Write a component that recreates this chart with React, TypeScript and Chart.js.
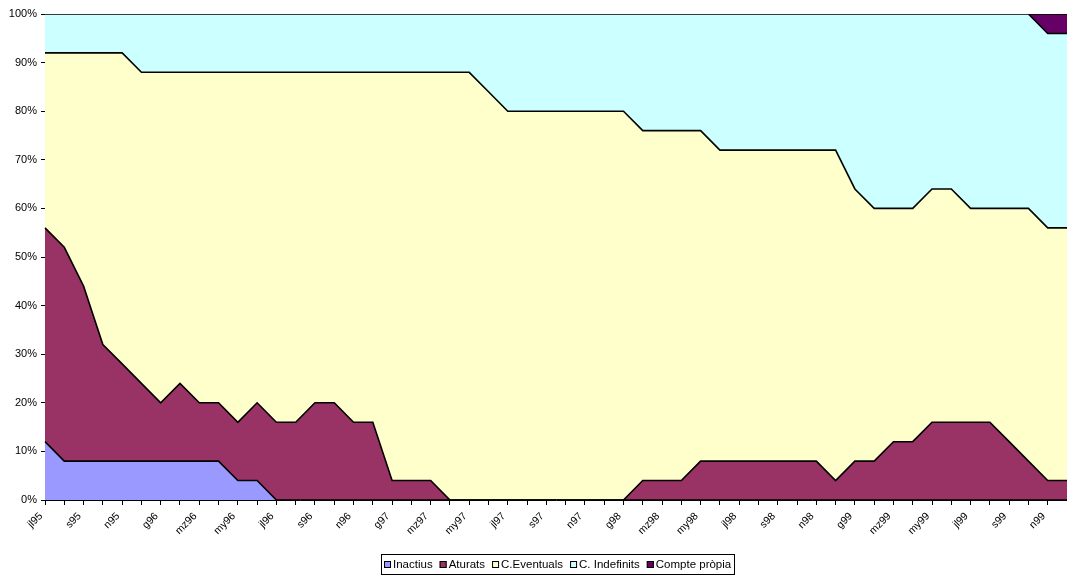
import React, { useEffect, useRef } from 'react';
import { Chart, registerables } from 'chart.js';

Chart.register(...registerables);

const months = [
  'jl95', 'ag95', 's95', 'o95', 'n95', 'd95',
  'g96', 'f96', 'mz96', 'ab96', 'my96', 'jn96', 'jl96', 'ag96', 's96', 'o96', 'n96', 'd96',
  'g97', 'f97', 'mz97', 'ab97', 'my97', 'jn97', 'jl97', 'ag97', 's97', 'o97', 'n97', 'd97',
  'g98', 'f98', 'mz98', 'ab98', 'my98', 'jn98', 'jl98', 'ag98', 's98', 'o98', 'n98', 'd98',
  'g99', 'f99', 'mz99', 'ab99', 'my99', 'jn99', 'jl99', 'ag99', 's99', 'o99', 'n99', 'd99',
];

const seriesNames = ['Inactius', 'Aturats', 'C.Eventuals', 'C. Indefinits', 'Compte pròpia'];

const inactius = [
  12, 8, 8, 8, 8, 8, 8, 8, 8, 8, 4, 4,
  0, 0, 0, 0, 0, 0, 0, 0, 0, 0, 0, 0, 0, 0, 0, 0, 0, 0, 0, 0, 0, 0, 0, 0, 0, 0, 0, 0, 0, 0,
  0, 0, 0, 0, 0, 0, 0, 0, 0, 0, 0, 0,
];

const aturats = [
  44, 44, 36, 24, 20, 16, 12, 16, 12, 12, 12, 16, 16, 16, 20, 20, 16, 16, 4, 4, 4,
  0, 0, 0, 0, 0, 0, 0, 0, 0, 0,
  4, 4, 4, 8, 8, 8, 8, 8, 8, 8, 4, 8, 8, 12, 12, 16, 16, 16, 16, 12, 8, 4, 4,
];

const eventuals = [
  36, 40, 48, 60, 64, 64, 68, 64, 68, 68, 72, 68, 72, 72, 68, 68, 72, 72, 84, 84, 84, 88, 88, 84,
  80, 80, 80, 80, 80, 80, 80,
  72, 72, 72, 68, 64, 64, 64, 64, 64, 64, 68,
  56, 52, 48, 48, 48, 48, 44, 44, 48, 52, 52, 52,
];

const indefinits = [
  8, 8, 8, 8, 8,
  12, 12, 12, 12, 12, 12, 12, 12, 12, 12, 12, 12, 12, 12, 12, 12, 12, 12,
  16, 20, 20, 20, 20, 20, 20, 20,
  24, 24, 24, 24, 28, 28, 28, 28, 28, 28, 28,
  36, 40, 40, 40, 36, 36, 40, 40, 40, 40, 40, 40,
];

const comptePropia = [
  0, 0, 0, 0, 0, 0, 0, 0, 0, 0, 0, 0, 0, 0, 0, 0, 0, 0, 0, 0, 0, 0, 0, 0, 0, 0,
  0, 0, 0, 0, 0, 0, 0, 0, 0, 0, 0, 0, 0, 0, 0, 0, 0, 0, 0, 0, 0, 0, 0, 0, 0, 0,
  4, 4,
];

const yTicks = [0, 10, 20, 30, 40, 50, 60, 70, 80, 90, 100];

const seriesData = [inactius, aturats, eventuals, indefinits, comptePropia];
const seriesColors = ['#9999FF', '#993366', '#FFFFCC', '#CCFFFF', '#660066'];

const FONT = '"Liberation Sans", Arial, Helvetica, sans-serif';

const legendPlugin = {
  id: 'boxedLegend',
  afterDraw(chart: any) {
    const ctx = chart.ctx as CanvasRenderingContext2D;
    ctx.save();
    const fs = 11.5;
    ctx.font = `${fs}px ${FONT}`;
    const sw = 7;
    const gapBox = 2;
    const gapItem = 7;
    const widths = seriesNames.map((n) => ctx.measureText(n).width);
    const total =
      widths.reduce((a, b) => a + b, 0) + seriesNames.length * (sw + gapBox) + (seriesNames.length - 1) * gapItem;
    const area = chart.chartArea;
    const cx = (area.left + area.right) / 2 + 2;
    const cy = chart.height - 12;
    let x = Math.round(cx - total / 2);
    ctx.strokeStyle = '#000';
    ctx.lineWidth = 1;
    ctx.strokeRect(x - 3 + 0.5, Math.round(cy - 10) + 0.5, Math.round(total + 6), 20);
    ctx.textBaseline = 'middle';
    ctx.textAlign = 'left';
    seriesNames.forEach((name, i) => {
      const by = Math.round(cy - sw / 2);
      ctx.fillStyle = seriesColors[i];
      ctx.fillRect(x, by, sw, sw);
      ctx.strokeStyle = '#000';
      ctx.strokeRect(x + 0.5, by + 0.5, sw - 1, sw - 1);
      ctx.fillStyle = '#000';
      ctx.fillText(name, x + sw + gapBox, cy + 0.5);
      x += sw + gapBox + widths[i] + gapItem;
    });
    ctx.restore();
  },
};

export default function App() {
  const ref = useRef<HTMLCanvasElement>(null);

  useEffect(() => {
    if (!ref.current) return;
    const chart = new Chart(ref.current, {
      type: 'line',
      data: {
        labels: months,
        datasets: seriesNames.map((name, k) => ({
          label: name,
          data: seriesData[k],
          backgroundColor: seriesColors[k],
          borderColor: '#000',
          borderWidth: 1.6,
          borderJoinStyle: 'miter',
          fill: k === 0 ? 'origin' : '-1',
          pointRadius: 0,
          pointHoverRadius: 0,
          tension: 0,
        })),
      },
      options: {
        responsive: false,
        animation: false,
        events: [],
        layout: { padding: { top: 14, right: 0, bottom: 36, left: 0 } },
        plugins: {
          legend: { display: false },
          tooltip: { enabled: false },
        },
        scales: {
          x: {
            type: 'category',
            offset: false,
            grid: {
              display: true,
              drawOnChartArea: false,
              drawTicks: true,
              tickLength: 5,
              color: '#000',
            },
            border: { display: true, color: '#000', width: 1 },
            ticks: {
              autoSkip: false,
              minRotation: 45,
              maxRotation: 45,
              padding: 5,
              labelOffset: -4,
              color: '#000',
              font: { family: FONT, size: 10.5 },
              callback: (_v: any, i: number) => (i % 2 === 0 ? months[i] : ''),
            },
            afterFit: (s: any) => {
              s.height = 40;
              s.paddingLeft = 0;
              s.paddingRight = 0;
            },
          },
          y: {
            stacked: true,
            min: 0,
            max: 100,
            afterBuildTicks: (s: any) => {
              s.ticks = yTicks.map((v) => ({ value: v }));
            },
            grid: {
              display: true,
              drawOnChartArea: false,
              drawTicks: true,
              tickLength: 4,
              color: '#000',
            },
            border: { display: true, color: '#000', width: 1 },
            ticks: {
              padding: 4,
              color: '#000',
              font: { family: FONT, size: 11 },
              callback: (v: any) => `${v}%`,
            },
            afterFit: (s: any) => {
              s.width = 45;
              s.paddingTop = 0;
              s.paddingBottom = 0;
            },
          },
        },
      },
      plugins: [legendPlugin],
    });
    return () => chart.destroy();
  }, []);

  return (
    <div style={{ position: 'absolute', left: 0, top: 0, width: 1067, height: 576 }}>
      <canvas ref={ref} width={1067} height={576} />
    </div>
  );
}
